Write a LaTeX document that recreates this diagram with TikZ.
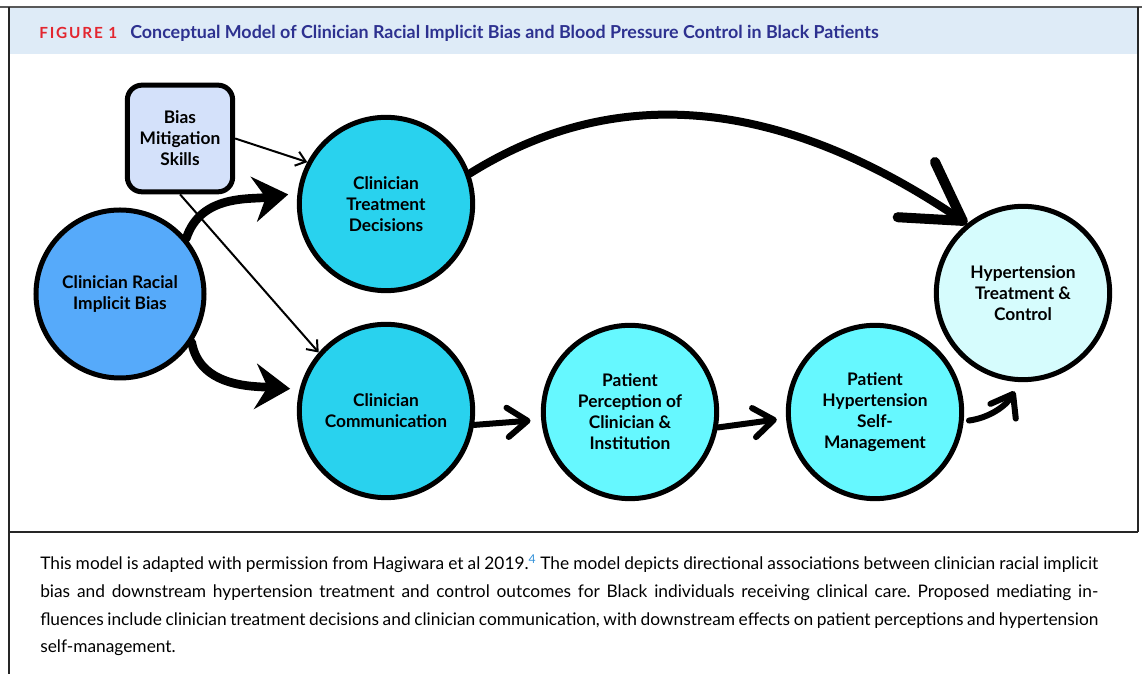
\documentclass[tikz,border=0pt]{standalone}
\usepackage{fontspec}
\setmainfont{Lato}
\newfontfamily\spacedfont{Lato}[LetterSpace=12]
\usetikzlibrary{arrows.meta}

\definecolor{bandblue}{HTML}{DEEBF7}
\definecolor{figred}{HTML}{E3262F}
\definecolor{titlenavy}{HTML}{2D3190}
\definecolor{supblue}{HTML}{2F8FD8}
\definecolor{biasblue}{HTML}{56AAFA}
\definecolor{clinblue}{HTML}{29D2EE}
\definecolor{patcyan}{HTML}{66F8FF}
\definecolor{outpale}{HTML}{D6FCFD}
\definecolor{skillpale}{HTML}{D4E1FA}

\begin{document}
\frenchspacing
\begin{tikzpicture}[x=0.75pt,y=0.75pt,
    factor/.style={draw, circle, line width=3.75pt, minimum size=130pt, inner sep=0pt, align=center,
        font=\bfseries\fontsize{13}{15.75}\selectfont},
    skillbox/.style={draw, rectangle, rounded corners=11pt, line width=3.75pt, minimum width=79pt,
        minimum height=80pt, inner sep=0pt, align=center, font=\bfseries\fontsize{13}{15.75}\selectfont},
    thinarrow/.style={line width=1.5pt, -{Straight Barb[length=7pt,width=11pt]}},
    brush/.style={line width=6.5pt, line cap=round, -{Stealth[length=26pt,width=34pt,inset=9pt]}},
    bigbarb/.style={line width=6pt, line cap=round, -{Straight Barb[length=42pt,width=50pt,line width=7.5pt,round]}},
    barb/.style={line width=4.5pt, line cap=round, -{Straight Barb[length=15pt,width=22pt,round]}},
    frame/.style={draw=black!85, line width=1.5pt}]
    \useasboundingbox (0,0) rectangle (1142,674);

    % Header band and frame
    \fill[bandblue] (9,620) rectangle (1138,666);
    \draw[black!65, line width=2.2pt] (0,667) -- (1142,667);
    \draw[frame] (9,667) -- (9,0);
    \draw[frame] (1138,667) -- (1138,142);
    \draw[frame] (9,142) -- (1138,142);
    \node[anchor=base west, inner sep=0pt, text=figred, font=\spacedfont\bfseries\fontsize{11.5}{13}\selectfont] (fig) at (39,635) {FIGURE 1};
    \node[anchor=base west, inner sep=0pt, text=titlenavy, font=\bfseries\fontsize{13.4}{15}\selectfont] (title) at (130,635)
        {Conceptual Model of Clinician Racial Implicit Bias and Blood Pressure Control in Black Patients};

    % Main components
    \node[skillbox, fill=skillpale] (skills) at (180,535.5) {Bias\\Mitigation\\Skills};
    \node[factor, fill=biasblue, minimum size=126pt] (racial) at (120,380) {Clinician Racial\\Implicit Bias};
    \node[factor, fill=clinblue] (decisions) at (386,470) {Clinician\\Treatment\\Decisions};
    \node[factor, fill=clinblue] (comm) at (386,263) {Clinician\\Communication};
    \node[factor, fill=patcyan] (percep) at (630,262) {Patient\\Perception of\\Clinician \&\\Institution};
    \node[factor, fill=patcyan] (selfmgmt) at (875,262) {Patient\\Hypertension\\Self-\\Management};
    \node[factor, fill=outpale] (control) at (1023,381) {Hypertension\\Treatment \&\\Control};

    % Arrows
    \draw[thinarrow] (skills.east) -- (decisions.152);
    \draw[thinarrow] (skills.south) -- (comm.139);
    \draw[brush, shorten >=7pt] (racial.40) to[out=72, in=188] (decisions.173);
    \draw[brush, shorten >=7pt] (racial.-34) to[out=-80, in=176] (comm.166);
    \draw[bigbarb] (decisions.20) to[out=32, in=146] (control.129);
    \draw[barb, shorten >=8pt] (comm.-9) -- (percep.185);
    \draw[barb, shorten >=7pt] (percep.-10) -- (selfmgmt.184);
    \draw[barb, shorten <=4pt, shorten >=8pt] (selfmgmt.-6) to[out=8, in=240] (control.268);

    % Caption
    \node[anchor=north west, inner sep=0pt, text width=793.5pt, align=justify,
        font=\fontsize{13}{20.8}\selectfont] (caption) at (40,119)
        {This model is adapted with permission from Hagiwara et al 2019.\textcolor{supblue}{\textsuperscript{4}} The model depicts directional associations between clinician racial implicit\linebreak
        bias and downstream hypertension treatment and control outcomes for Black individuals receiving clinical care. Proposed mediating in-\linebreak
        fluences include clinician treatment decisions and clinician communication, with downstream effects on patient perceptions and hypertension\linebreak
        self-management.};
\end{tikzpicture}
\end{document}
